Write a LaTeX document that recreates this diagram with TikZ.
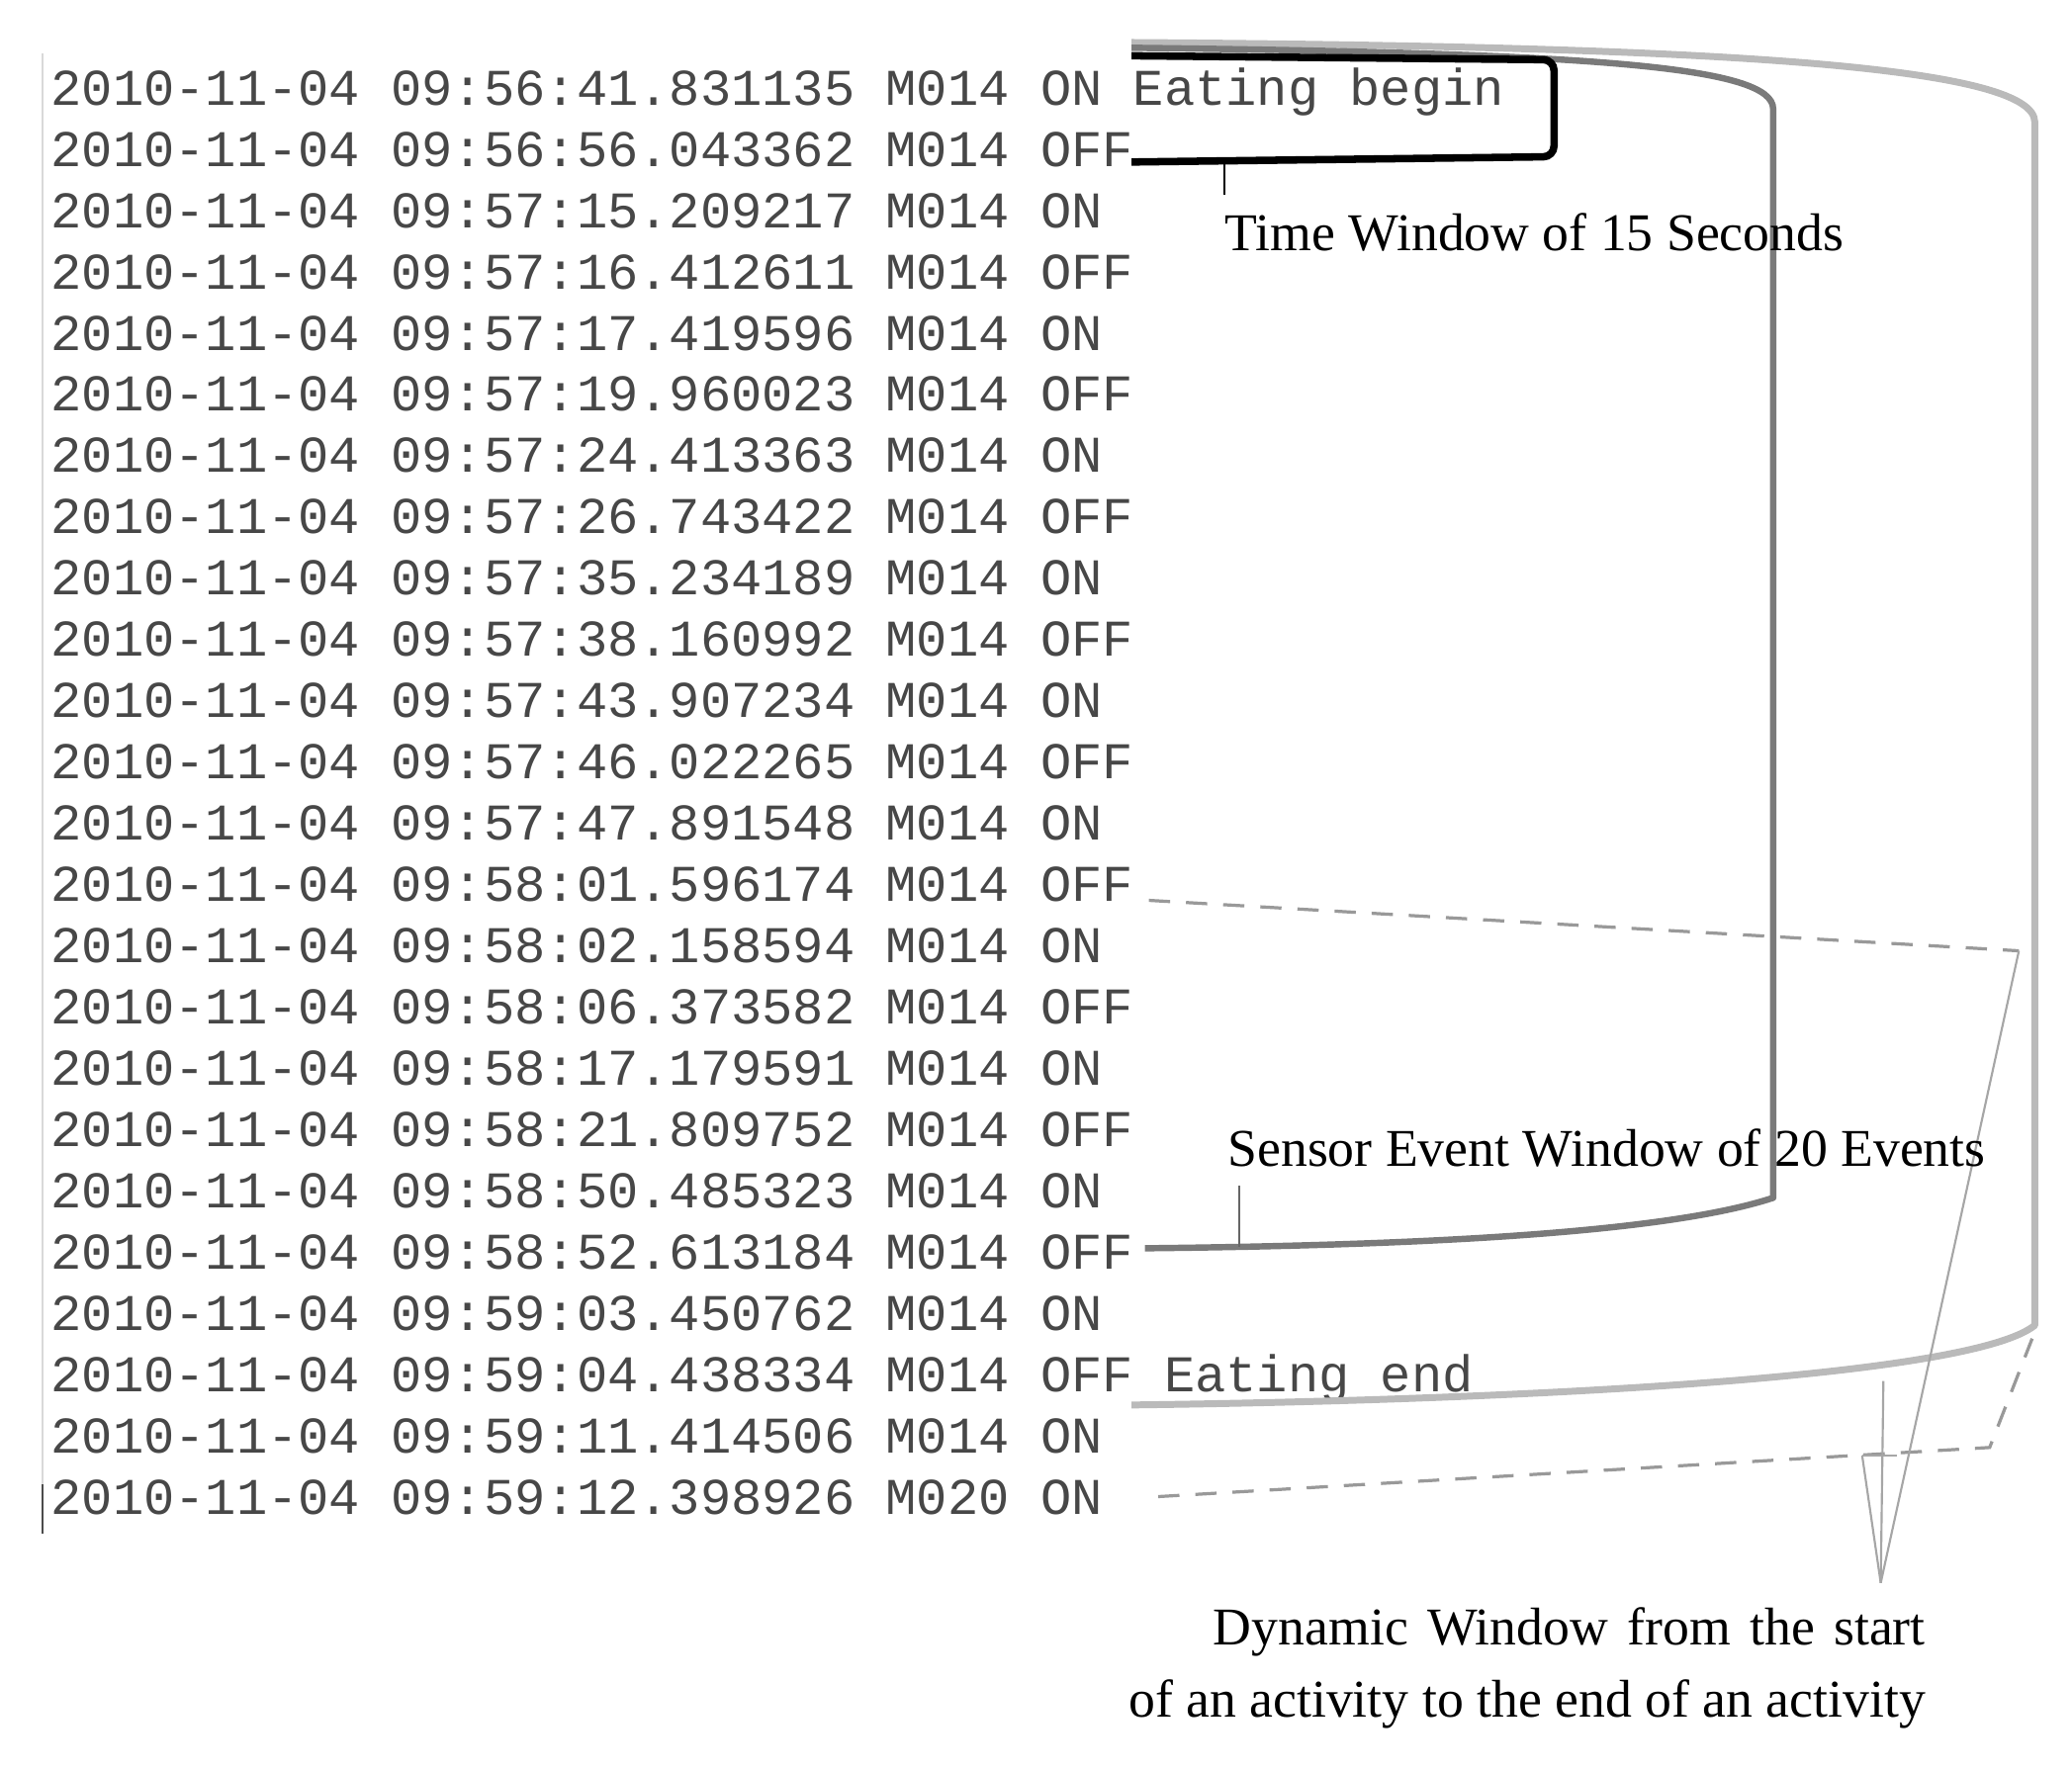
\documentclass[tikz,border=0pt]{standalone}
\usepackage{fontspec}
\setmainfont{Liberation Serif}
\newfontfamily\monof{Liberation Mono}
\begin{document}
\begin{tikzpicture}[x=0.5pt,y=-0.5pt,
  row/.style={anchor=base west,inner sep=0pt,font=\monof\fontsize{19.4pt}{20pt}\selectfont,text=black!72},
  lab/.style={inner sep=0pt,font=\fontsize{20pt}{22pt}\selectfont,text=black},
  dashln/.style={draw=black!40,line width=1.2pt,dash pattern=on 8pt off 6pt},
  thinln/.style={draw=black!35,line width=0.8pt}]
\useasboundingbox (0,0) rectangle (1560,1333);
\foreach \t [count=\i from 0] in {
2010-11-04 09:56:41.831135 M014 ON Eating begin,
2010-11-04 09:56:56.043362 M014 OFF,
2010-11-04 09:57:15.209217 M014 ON,
2010-11-04 09:57:16.412611 M014 OFF,
2010-11-04 09:57:17.419596 M014 ON,
2010-11-04 09:57:19.960023 M014 OFF,
2010-11-04 09:57:24.413363 M014 ON,
2010-11-04 09:57:26.743422 M014 OFF,
2010-11-04 09:57:35.234189 M014 ON,
2010-11-04 09:57:38.160992 M014 OFF,
2010-11-04 09:57:43.907234 M014 ON,
2010-11-04 09:57:46.022265 M014 OFF,
2010-11-04 09:57:47.891548 M014 ON,
2010-11-04 09:58:01.596174 M014 OFF,
2010-11-04 09:58:02.158594 M014 ON,
2010-11-04 09:58:06.373582 M014 OFF,
2010-11-04 09:58:17.179591 M014 ON,
2010-11-04 09:58:21.809752 M014 OFF,
2010-11-04 09:58:50.485323 M014 ON,
2010-11-04 09:58:52.613184 M014 OFF,
2010-11-04 09:59:03.450762 M014 ON,
2010-11-04 09:59:04.438334 M014 OFF Eating end,
2010-11-04 09:59:11.414506 M014 ON,
2010-11-04 09:59:12.398926 M020 ON}
  \node[row] (row\i) at (38,{79+46.15*\i}) {\t};
% faint left margin line and cursor
\draw[black!15,line width=0.6pt] (32,40) -- (32,1120);
\draw[black!70,line width=1pt] (32,1118) -- (32,1155);
% light gray dynamic window
\draw[black!27,line width=2.6pt,line join=round] (852,32) .. controls (1300,35) and (1532,50) .. (1532,92) -- (1532,998) .. controls (1480,1040) and (1100,1055) .. (852,1058);
% dark gray sensor window
\draw[black!52,line width=2.4pt,line join=round] (852,36) .. controls (1200,40) and (1335,50) .. (1335,82) -- (1335,902) .. controls (1250,930) and (1050,938) .. (862,940);
% black time window
\draw[black,line width=2.8pt,rounded corners=4pt] (852,42) -- (1170,45) -- (1170,118) -- (852,122);
% ticks
\coordinate (t1a) at (922,122); \coordinate (t1b) at (922,147);
\draw[black,line width=0.8pt] (t1a) -- (t1b);
\coordinate (t2a) at (933,893); \coordinate (t2b) at (933,939);
\draw[black!60,line width=0.8pt] (t2a) -- (t2b);
% dashed lines
\coordinate (d1a) at (865,678); \coordinate (d1b) at (1520,716);
\draw[dashln] (d1a) -- (d1b);
\coordinate (d2a) at (872,1127); \coordinate (d2b) at (1498,1090); \coordinate (d2c) at (1530,1008);
\draw[dashln] (d2a) -- (d2b) -- (d2c);
% pointer lines
\coordinate (cv) at (1416,1192);
\coordinate (p1) at (1418,1040);
\coordinate (p2) at (1402,1096);
\coordinate (p3) at (1428,1096);
\draw[thinln] (d1b) -- (cv);
\draw[thinln] (p1) -- (cv);
\draw[thinln] (p2) -- (cv);
\draw[thinln] (p2) -- (p3);
% labels
\node[lab,anchor=base west] (lt) at (922,189) {Time Window of 15 Seconds};
\node[lab,anchor=base west] (ls) at (924,878) {Sensor Event Window of 20 Events};
\node[lab,anchor=base east] (ld1) at (1450,1239) {\makebox[268pt][s]{Dynamic Window from the start}};
\node[lab,anchor=base east] (ld2) at (1450,1293) {of an activity to the end of an activity};
\end{tikzpicture}
\end{document}
